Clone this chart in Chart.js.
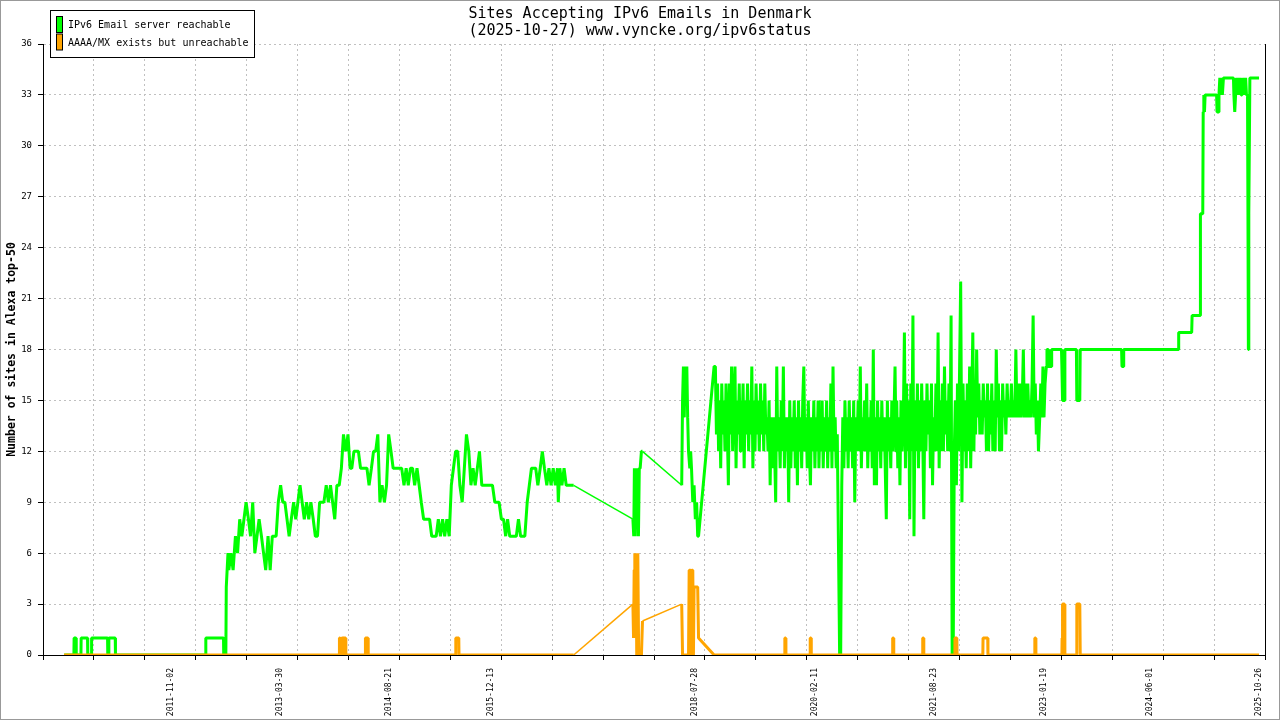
<!DOCTYPE html>
<html>
<head>
<meta charset="utf-8">
<title>Sites Accepting IPv6 Emails in Denmark</title>
<script src="https://cdn.jsdelivr.net/npm/chart.js@4.4.1/dist/chart.umd.min.js"></script>
<style>
  html, body { margin: 0; padding: 0; background: #fff; }
  canvas { display: block; }
</style>
</head>
<body>
<canvas id="chart" width="1280" height="720"></canvas>
<script>
// dates printed under the x axis
const tickDates = ['2011-11-02', '2013-03-30', '2014-08-21', '2015-12-13', '2018-07-28',
  '2020-02-11', '2021-08-23', '2023-01-19', '2024-06-01', '2025-10-26'];

// IPv6 Email server reachable (green)
const reachableDates = [
  '2010-06-20', '2010-08-05', '2010-08-06', '2010-08-15', '2010-08-16', '2010-09-07', '2010-09-08', '2010-10-08', '2010-10-09', '2010-10-26',
  '2010-10-27', '2011-01-10', '2011-01-11', '2011-01-15', '2011-01-16', '2011-02-15', '2011-02-16', '2012-04-14', '2012-04-15', '2012-07-07',
  '2012-07-08', '2012-07-18', '2012-07-20', '2012-07-28', '2012-08-01', '2012-08-11', '2012-08-21', '2012-09-01', '2012-09-11', '2012-09-21',
  '2012-10-01', '2012-10-11', '2012-10-21', '2012-11-01', '2012-11-11', '2012-11-21', '2012-12-01', '2012-12-11', '2012-12-21', '2013-01-01',
  '2013-01-11', '2013-01-21', '2013-02-01', '2013-02-11', '2013-02-21', '2013-03-01', '2013-03-11', '2013-03-21', '2013-04-01', '2013-04-11',
  '2013-04-21', '2013-05-01', '2013-05-11', '2013-05-21', '2013-06-01', '2013-06-11', '2013-06-21', '2013-07-01', '2013-07-11', '2013-07-21',
  '2013-08-01', '2013-08-11', '2013-08-21', '2013-09-01', '2013-09-11', '2013-09-21', '2013-10-01', '2013-10-11', '2013-10-21', '2013-11-01',
  '2013-11-11', '2013-11-21', '2013-12-01', '2013-12-11', '2013-12-21', '2014-01-01', '2014-01-11', '2014-01-21', '2014-02-01', '2014-02-11',
  '2014-02-21', '2014-03-01', '2014-03-11', '2014-03-21', '2014-04-01', '2014-04-11', '2014-04-21', '2014-05-01', '2014-05-11', '2014-05-21',
  '2014-06-01', '2014-06-11', '2014-06-21', '2014-07-01', '2014-07-11', '2014-07-21', '2014-08-01', '2014-08-11', '2014-08-21', '2014-09-01',
  '2014-09-11', '2014-09-21', '2014-10-01', '2014-10-11', '2014-10-21', '2014-11-01', '2014-11-11', '2014-11-21', '2014-12-01', '2014-12-11',
  '2014-12-21', '2015-01-01', '2015-01-11', '2015-01-21', '2015-02-01', '2015-02-11', '2015-02-21', '2015-03-01', '2015-03-11', '2015-03-21',
  '2015-04-01', '2015-04-11', '2015-04-21', '2015-05-01', '2015-05-11', '2015-05-21', '2015-06-01', '2015-06-11', '2015-06-21', '2015-07-01',
  '2015-07-11', '2015-07-21', '2015-08-01', '2015-08-11', '2015-08-21', '2015-09-01', '2015-09-11', '2015-09-21', '2015-10-01', '2015-10-11',
  '2015-10-21', '2015-11-01', '2015-11-11', '2015-11-21', '2015-12-01', '2015-12-11', '2015-12-21', '2016-01-01', '2016-01-11', '2016-01-21',
  '2016-02-01', '2016-02-11', '2016-02-21', '2016-03-01', '2016-03-11', '2016-03-21', '2016-04-01', '2016-04-11', '2016-04-21', '2016-05-01',
  '2016-05-11', '2016-05-21', '2016-06-01', '2016-06-11', '2016-06-21', '2016-07-01', '2016-07-11', '2016-07-21', '2016-08-01', '2016-08-11',
  '2016-08-21', '2016-09-01', '2016-09-11', '2016-09-21', '2016-10-01', '2016-10-11', '2016-10-21', '2016-10-25', '2016-11-01', '2016-11-11',
  '2016-11-21', '2016-12-01', '2016-12-11', '2016-12-21', '2017-01-05', '2017-10-10', '2017-10-14', '2017-10-17', '2017-10-21', '2017-10-25',
  '2017-10-28', '2017-11-01', '2017-11-05', '2017-11-09', '2017-11-13', '2017-11-19', '2017-11-24', '2018-05-27', '2018-05-31', '2018-06-04',
  '2018-06-08', '2018-06-12', '2018-06-16', '2018-06-20', '2018-06-24', '2018-06-28', '2018-07-04', '2018-07-08', '2018-07-12', '2018-07-18',
  '2018-07-24', '2018-07-30', '2018-08-05', '2018-08-10', '2018-08-14', '2018-10-26',
  '2018-11-01', '2018-11-06', '2018-11-11', '2018-11-16', '2018-11-21', '2018-11-26',
  '2018-12-01', '2018-12-06', '2018-12-11', '2018-12-16', '2018-12-21', '2018-12-26',
  '2019-01-01', '2019-01-06', '2019-01-11', '2019-01-16', '2019-01-21', '2019-01-26',
  '2019-02-01', '2019-02-06', '2019-02-11', '2019-02-16', '2019-02-21', '2019-02-26',
  '2019-03-01', '2019-03-06', '2019-03-11', '2019-03-16', '2019-03-21', '2019-03-26',
  '2019-04-01', '2019-04-06', '2019-04-11', '2019-04-16', '2019-04-21', '2019-04-26',
  '2019-05-01', '2019-05-06', '2019-05-11', '2019-05-16', '2019-05-21', '2019-05-26',
  '2019-06-01', '2019-06-06', '2019-06-11', '2019-06-16', '2019-06-21', '2019-06-26',
  '2019-07-01', '2019-07-06', '2019-07-11', '2019-07-16', '2019-07-21', '2019-07-26',
  '2019-08-01', '2019-08-06', '2019-08-11', '2019-08-16', '2019-08-21', '2019-08-26',
  '2019-09-01', '2019-09-06', '2019-09-11', '2019-09-16', '2019-09-21', '2019-09-26',
  '2019-10-01', '2019-10-06', '2019-10-11', '2019-10-16', '2019-10-21', '2019-10-26',
  '2019-11-01', '2019-11-06', '2019-11-11', '2019-11-16', '2019-11-21', '2019-11-26',
  '2019-12-01', '2019-12-06', '2019-12-11', '2019-12-16', '2019-12-21', '2019-12-26',
  '2020-01-01', '2020-01-06', '2020-01-11', '2020-01-16', '2020-01-21', '2020-01-26',
  '2020-02-01', '2020-02-06', '2020-02-11', '2020-02-16', '2020-02-21', '2020-02-26',
  '2020-03-01', '2020-03-06', '2020-03-11', '2020-03-16', '2020-03-21', '2020-03-26',
  '2020-04-01', '2020-04-06', '2020-04-11', '2020-04-16', '2020-04-21', '2020-04-26',
  '2020-05-01', '2020-05-06', '2020-05-11', '2020-05-16', '2020-05-21', '2020-05-26',
  '2020-06-01', '2020-06-06', '2020-06-11', '2020-06-16', '2020-06-21', '2020-06-26',
  '2020-07-01', '2020-07-06', '2020-07-11', '2020-07-16', '2020-07-21', '2020-07-26',
  '2020-08-01', '2020-08-06', '2020-08-11', '2020-08-16', '2020-08-21', '2020-08-26',
  '2020-09-01', '2020-09-06', '2020-09-11', '2020-09-16', '2020-09-21', '2020-09-26',
  '2020-10-01', '2020-10-06', '2020-10-11', '2020-10-16', '2020-10-21', '2020-10-26',
  '2020-11-01', '2020-11-06', '2020-11-11', '2020-11-16', '2020-11-21', '2020-11-26',
  '2020-12-01', '2020-12-06', '2020-12-11', '2020-12-16', '2020-12-21', '2020-12-26',
  '2021-01-01', '2021-01-06', '2021-01-11', '2021-01-16', '2021-01-21', '2021-01-26',
  '2021-02-01', '2021-02-06', '2021-02-11', '2021-02-16', '2021-02-21', '2021-02-26',
  '2021-03-01', '2021-03-06', '2021-03-11', '2021-03-16', '2021-03-21', '2021-03-26',
  '2021-04-01', '2021-04-06', '2021-04-11', '2021-04-16', '2021-04-21', '2021-04-26',
  '2021-05-01', '2021-05-06', '2021-05-11', '2021-05-16', '2021-05-21', '2021-05-26',
  '2021-06-01', '2021-06-06', '2021-06-11', '2021-06-16', '2021-06-21', '2021-06-26',
  '2021-07-01', '2021-07-06', '2021-07-11', '2021-07-16', '2021-07-21', '2021-07-26',
  '2021-08-01', '2021-08-06', '2021-08-11', '2021-08-16', '2021-08-21', '2021-08-26',
  '2021-09-01', '2021-09-06', '2021-09-11', '2021-09-16', '2021-09-21', '2021-09-26',
  '2021-10-01', '2021-10-06', '2021-10-11', '2021-10-16', '2021-10-21', '2021-10-26',
  '2021-11-01', '2021-11-06', '2021-11-11', '2021-11-16', '2021-11-21', '2021-11-26',
  '2021-12-01', '2021-12-06', '2021-12-11', '2021-12-16', '2021-12-21', '2021-12-26',
  '2022-01-01', '2022-01-06', '2022-01-11', '2022-01-16', '2022-01-21', '2022-01-26',
  '2022-02-01', '2022-02-06', '2022-02-11', '2022-02-16', '2022-02-21', '2022-02-26',
  '2022-03-01', '2022-03-06', '2022-03-11', '2022-03-16', '2022-03-21', '2022-03-26',
  '2022-04-01', '2022-04-06', '2022-04-11', '2022-04-16', '2022-04-21', '2022-04-26',
  '2022-05-01', '2022-05-06', '2022-05-11', '2022-05-16', '2022-05-21', '2022-05-26',
  '2022-06-01', '2022-06-06', '2022-06-11', '2022-06-16', '2022-06-21', '2022-06-26',
  '2022-07-01', '2022-07-06', '2022-07-11', '2022-07-16', '2022-07-21', '2022-07-26',
  '2022-08-01', '2022-08-06', '2022-08-11', '2022-08-16', '2022-08-21', '2022-08-26',
  '2022-09-01', '2022-09-06', '2022-09-11', '2022-09-16', '2022-09-21', '2022-09-26',
  '2022-10-01', '2022-10-06', '2022-10-11', '2022-10-16', '2022-10-21', '2022-10-26',
  '2022-11-01', '2022-11-06', '2022-11-11', '2022-11-16', '2022-11-21', '2022-11-26',
  '2022-12-01', '2022-12-06', '2022-12-11', '2022-12-16', '2022-12-21', '2022-12-26',
  '2023-01-01', '2023-01-06', '2023-01-11', '2023-01-16', '2023-01-21', '2023-01-26',
  '2023-02-01', '2023-02-04', '2023-02-10', '2023-02-12', '2023-02-24', '2023-02-26', '2023-04-13',
  '2023-04-15', '2023-04-18', '2023-04-27', '2023-04-29', '2023-06-22', '2023-06-24', '2023-07-08', '2023-07-10', '2024-01-20', '2024-01-22',
  '2024-01-28', '2024-01-30', '2024-10-12', '2024-10-14', '2024-12-14', '2024-12-16', '2025-01-22', '2025-01-24', '2025-02-04', '2025-02-06',
  '2025-02-09', '2025-02-12', '2025-02-15', '2025-04-10', '2025-04-12', '2025-04-19', '2025-04-21', '2025-04-25', '2025-04-29', '2025-05-03',
  '2025-05-07', '2025-05-12', '2025-06-28', '2025-06-30', '2025-07-04', '2025-07-08', '2025-07-14', '2025-07-18', '2025-07-22', '2025-07-26',
  '2025-07-30', '2025-08-03', '2025-08-07', '2025-08-11', '2025-08-15', '2025-08-19', '2025-08-24', '2025-08-28', '2025-09-02', '2025-09-04',
  '2025-09-06', '2025-09-08', '2025-09-13', '2025-10-26'
];
const reachableCounts = [
  0, 0, 1, 1, 0, 0, 1, 1, 0, 0,
  1, 1, 0, 0, 1, 1, 0, 0, 1, 1,
  0, 0, 4, 6, 5, 6, 5, 7, 6, 8,
  7, 8, 9, 8, 7, 9, 6, 7, 8, 7,
  6, 5, 7, 5, 7, 7, 7, 9, 10, 9,
  9, 8, 7, 8, 9, 8, 9, 10, 9, 8,
  9, 8, 9, 8, 7, 7, 9, 9, 9, 10,
  9, 10, 9, 8, 10, 10, 11, 13, 12, 13,
  11, 11, 12, 12, 12, 11, 11, 11, 11, 10,
  11, 12, 12, 13, 9, 10, 9, 10, 13, 12,
  11, 11, 11, 11, 11, 10, 11, 10, 11, 11,
  10, 11, 10, 9, 8, 8, 8, 8, 7, 7,
  7, 8, 7, 8, 7, 8, 7, 10, 11, 12,
  12, 10, 9, 11, 13, 12, 10, 11, 10, 11,
  12, 10, 10, 10, 10, 10, 10, 9, 9, 9,
  8, 8, 7, 8, 7, 7, 7, 7, 8, 7,
  7, 7, 9, 10, 11, 11, 11, 10, 11, 12,
  11, 10, 11, 10, 11, 10, 11, 9, 11, 10,
  11, 10, 10, 10, 10, 8, 7, 11, 7, 11,
  8, 11, 7, 11, 11, 12, 12, 10, 15, 17,
  14, 17, 15, 17, 14, 12, 11, 12, 11, 9,
  10, 8, 9, 7, 7, 17,
  17, 13, 16, 12, 15, 11,
  16, 13, 15, 12, 16, 14,
  10, 16, 13, 17, 12, 15,
  17, 11, 15, 13, 16, 12,
  15, 13, 16, 11, 15, 13,
  16, 12, 15, 13, 17, 11,
  15, 12, 16, 13, 15, 12,
  16, 13, 15, 12, 16, 13,
  14, 12, 15, 10, 14, 11,
  14, 12, 9, 17, 12, 14,
  11, 15, 12, 17, 11, 14,
  12, 14, 9, 15, 11, 14,
  12, 15, 11, 14, 10, 15,
  12, 14, 11, 15, 17, 12,
  14, 11, 15, 12, 10, 14,
  12, 15, 11, 14, 12, 15,
  11, 14, 12, 15, 11, 14,
  12, 15, 11, 14, 12, 16,
  11, 17, 12, 14, 11, 13,
  6, 0, 0, 10, 14, 11,
  15, 12, 14, 11, 15, 12,
  14, 11, 15, 9, 14, 12,
  15, 12, 17, 11, 14, 12,
  15, 12, 16, 11, 14, 12,
  15, 11, 18, 10, 14, 10,
  15, 12, 14, 11, 15, 12,
  14, 11, 8, 15, 12, 14,
  11, 15, 12, 14, 17, 12,
  15, 11, 14, 10, 15, 12,
  14, 19, 11, 16, 12, 15,
  8, 16, 12, 20, 7, 15,
  12, 16, 11, 15, 12, 16,
  13, 8, 15, 12, 16, 13,
  15, 11, 16, 10, 14, 12,
  16, 12, 19, 11, 15, 12,
  16, 12, 17, 13, 15, 12,
  16, 12, 20, 0, 0, 12,
  15, 10, 16, 12, 17, 22,
  9, 16, 12, 15, 11, 16,
  12, 17, 11, 15, 19, 12,
  15, 13, 18, 14, 16, 13,
  15, 13, 16, 14, 15, 12,
  16, 12, 15, 13, 16, 12,
  15, 12, 18, 14, 16, 12,
  15, 12, 16, 14, 15, 13,
  16, 14, 15, 14, 16, 14,
  15, 14, 18, 14, 16, 14,
  16, 14, 15, 18, 14, 16,
  14, 16, 14, 15, 14, 16,
  20, 14, 16, 13, 15, 12,
  14, 16, 14, 17, 14, 16,
  17, 18, 18, 17, 17, 18, 18,
  17, 15, 15, 18, 18, 15, 15, 18, 18, 17,
  17, 18, 18, 19, 19, 20, 20, 26, 26, 32,
  33, 32, 33, 33, 32, 32, 33, 34, 33, 34,
  33, 34, 34, 33, 32, 33, 34, 33, 34, 33,
  34, 33, 34, 33, 34, 33, 34, 33, 33, 26,
  18, 26, 34, 34
];

// AAAA/MX exists but unreachable (orange)
const unreachableDates = [
  '2010-06-20', '2014-01-01', '2014-01-02', '2014-01-05', '2014-01-06', '2014-01-12', '2014-01-13', '2014-01-19', '2014-01-20', '2014-01-22',
  '2014-01-31', '2014-02-01', '2014-05-03', '2014-05-04', '2014-05-16', '2014-05-17', '2015-07-01', '2015-07-02', '2015-07-16', '2015-07-17',
  '2017-01-05', '2017-10-10', '2017-10-13', '2017-10-16', '2017-10-19', '2017-10-22', '2017-10-25', '2017-10-28', '2017-11-02', '2017-11-06',
  '2017-11-19', '2017-11-24', '2018-05-27', '2018-05-31', '2018-06-28', '2018-07-01', '2018-07-08', '2018-07-10', '2018-07-13', '2018-07-18',
  '2018-07-21', '2018-07-24', '2018-08-10', '2018-08-14', '2018-10-26', '2019-09-22', '2019-09-23', '2019-09-27', '2019-09-28', '2020-01-19',
  '2020-01-20', '2020-01-24', '2020-01-25', '2021-02-09', '2021-02-10', '2021-02-14', '2021-02-15', '2021-06-30', '2021-07-01', '2021-07-05',
  '2021-07-06', '2021-11-28', '2021-11-29', '2021-12-08', '2021-12-09', '2022-04-09', '2022-04-10', '2022-05-02', '2022-05-03', '2022-12-08',
  '2022-12-09', '2022-12-13', '2022-12-14', '2023-04-15', '2023-04-16', '2023-04-18', '2023-04-27', '2023-04-29', '2023-06-22', '2023-06-24',
  '2023-07-08', '2023-07-10', '2025-10-26'
];
const unreachableCounts = [
  0, 0, 1, 1, 0, 0, 1, 1, 0, 1,
  1, 0, 0, 1, 1, 0, 0, 1, 1, 0,
  0, 3, 1, 5, 6, 1, 6, 0, 6, 0,
  0, 2, 3, 0, 0, 5, 5, 0, 5, 5,
  0, 4, 4, 1, 0, 0, 1, 1, 0, 0,
  1, 1, 0, 0, 1, 1, 0, 0, 1, 1,
  0, 0, 1, 1, 0, 0, 1, 1, 0, 0,
  1, 1, 0, 0, 1, 3, 3, 0, 0, 3,
  3, 0, 0
];

const DAY = 86400000;
const toDay = d => Date.parse(d) / DAY;
const axisStart = toDay('2010-03-13');
const axisEnd = toDay('2025-11-23');
const gridStep = (axisEnd - axisStart) / 24;
const mono = "'DejaVu Sans Mono', monospace";

Chart.defaults.font.family = mono;
Chart.defaults.color = '#000';

function toPoints(dates, counts) {
  return dates.map((d, i) => ({ x: toDay(d), y: counts[i] }));
}

// gaps in the data are drawn as thin sloping lines, like the original
const gapSegment = {
  borderWidth: c => {
    const gap = c.p1.parsed.x - c.p0.parsed.x > 60;
    const sloped = c.p1.parsed.y !== c.p0.parsed.y;
    const shallow = Math.abs(c.p1.y - c.p0.y) < Math.abs(c.p1.x - c.p0.x);
    return gap && sloped && shallow ? 1.5 : undefined;
  }
};

const frame = {
  id: 'frame',
  beforeDraw(chart) {
    const ctx = chart.ctx;
    ctx.save();
    ctx.fillStyle = '#fff';
    ctx.fillRect(0, 0, chart.width, chart.height);
    ctx.restore();
  },
  afterDraw(chart) {
    const ctx = chart.ctx;
    ctx.save();
    // legend box
    ctx.fillStyle = '#fff';
    ctx.fillRect(50.5, 10.5, 204, 47);
    ctx.strokeStyle = '#000';
    ctx.lineWidth = 1;
    ctx.strokeRect(50.5, 10.5, 204, 47);
    ctx.font = '10px ' + mono;
    ctx.textBaseline = 'middle';
    chart.data.datasets.forEach((ds, i) => {
      const y = 16.5 + i * 17.5;
      ctx.fillStyle = ds.borderColor;
      ctx.fillRect(56.5, y, 6, 16);
      ctx.strokeRect(56.5, y, 6, 16);
      ctx.fillStyle = '#000';
      ctx.fillText(ds.label, 68, y + 9);
    });
    // outer frame
    ctx.strokeStyle = '#999';
    ctx.strokeRect(0.5, 0.5, chart.width - 1, chart.height - 1);
    ctx.restore();
  }
};

new Chart(document.getElementById('chart'), {
  type: 'line',
  data: {
    datasets: [
      {
        label: 'IPv6 Email server reachable',
        data: toPoints(reachableDates, reachableCounts),
        borderColor: '#00ff00',
        backgroundColor: '#00ff00',
        segment: gapSegment,
        order: 1
      },
      {
        label: 'AAAA/MX exists but unreachable',
        data: toPoints(unreachableDates, unreachableCounts),
        borderColor: '#ffa500',
        backgroundColor: '#ffa500',
        segment: gapSegment,
        order: 0
      }
    ]
  },
  options: {
    responsive: false,
    animation: false,
    devicePixelRatio: 1,
    layout: { padding: 0 },
    elements: {
      point: { radius: 0, hoverRadius: 0 },
      line: { borderWidth: 3, tension: 0, borderJoinStyle: 'bevel', fill: false }
    },
    plugins: {
      legend: { display: false },
      tooltip: { enabled: false },
      title: {
        display: true,
        text: ['Sites Accepting IPv6 Emails in Denmark', '(2025-10-27) www.vyncke.org/ipv6status'],
        color: '#000',
        font: { family: mono, size: 15, weight: 'normal', lineHeight: 17 / 15 },
        padding: { top: 6, bottom: 4 }
      }
    },
    scales: {
      x: {
        type: 'linear',
        position: 'bottom',
        min: axisStart,
        max: axisEnd,
        afterBuildTicks: s => {
          s.ticks = Array.from({ length: 25 }, (_, k) => ({ value: axisStart + k * gridStep }));
        },
        afterFit: s => { s.height = 5; },
        ticks: { display: false },
        grid: { color: '#c0c0c0', tickColor: '#000', tickLength: 5 },
        border: { display: true, color: '#000', dash: [2, 3] }
      },
      x2: {
        type: 'linear',
        position: 'bottom',
        min: axisStart,
        max: axisEnd,
        afterBuildTicks: s => {
          s.ticks = tickDates.map(d => ({ value: toDay(d) }));
        },
        afterFit: s => { s.height = 60; },
        grid: { display: false },
        border: { display: false },
        ticks: {
          autoSkip: false,
          minRotation: 90,
          maxRotation: 90,
          padding: 0,
          color: '#000',
          font: { family: mono, size: 8 },
          callback: (v, i) => tickDates[i]
        }
      },
      y: {
        min: 0,
        max: 36,
        afterFit: s => { s.width = 43; },
        ticks: { stepSize: 3, padding: 6, color: '#000', font: { family: mono, size: 9 } },
        grid: { color: '#c0c0c0', tickColor: '#000', tickLength: 5 },
        border: { display: true, color: '#000', dash: [2, 3] },
        title: {
          display: true,
          text: 'Number of sites in Alexa top-50',
          color: '#000',
          font: { family: mono, size: 11.5, weight: 'bold' },
          padding: { top: 5, bottom: 0 }
        }
      },
      y2: {
        position: 'right',
        min: 0,
        max: 36,
        afterFit: s => { s.width = 15; },
        ticks: { display: false },
        grid: { display: false },
        border: { display: true, color: '#000' }
      }
    }
  },
  plugins: [frame]
});
</script>
</body>
</html>
